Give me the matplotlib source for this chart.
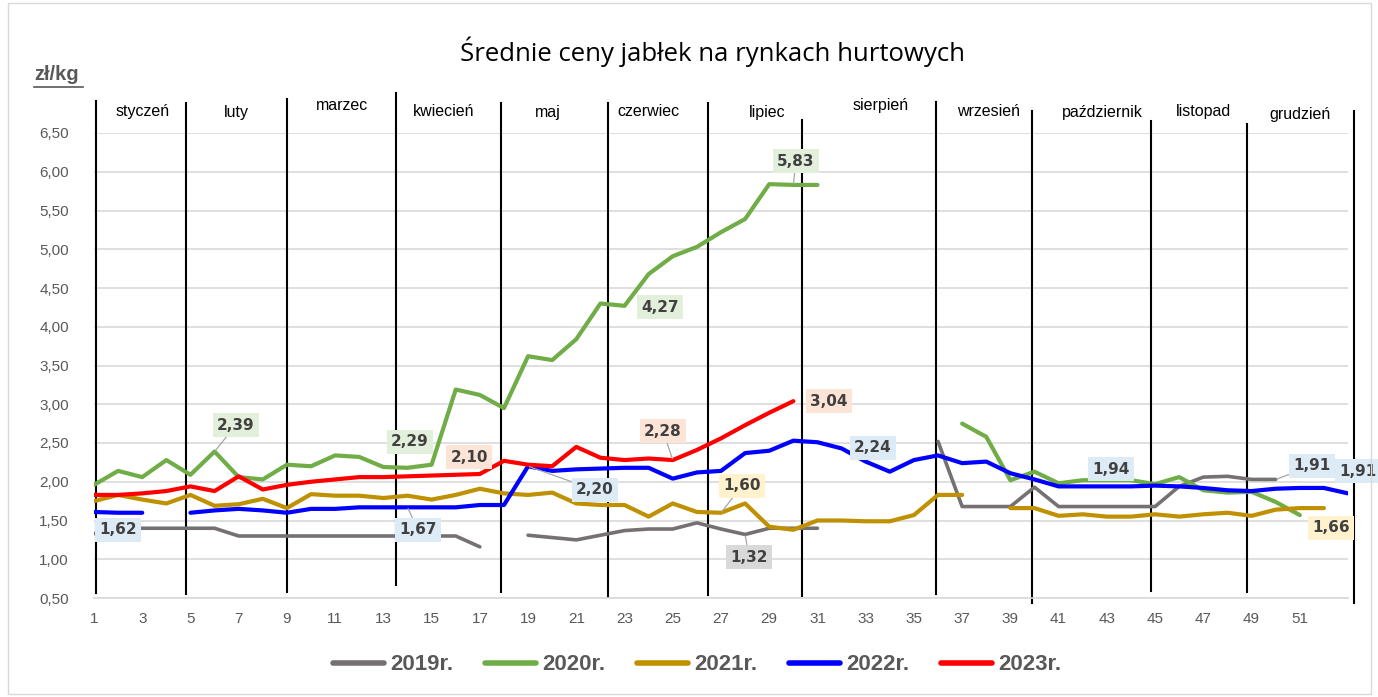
import numpy as np
import matplotlib
matplotlib.use("Agg")
import matplotlib.pyplot as plt
from matplotlib.lines import Line2D
from matplotlib.patches import Rectangle

nan = np.nan

# tygodnie 1..53
weeks = np.arange(1, 54)

ceny_2019 = [1.33, 1.40, 1.40, 1.40, 1.40, 1.40, 1.30, 1.30, 1.30, 1.30,
             1.30, 1.30, 1.30, 1.30, 1.30, 1.30, 1.16, nan, 1.31, 1.28,
             1.25, 1.31, 1.37, 1.39, 1.39, 1.47, 1.39, 1.32, 1.40, 1.40,
             1.40, nan, nan, nan, nan, 2.52, 1.68, 1.68, 1.68, 1.93,
             1.68, 1.68, 1.68, 1.68, 1.68, 1.94, 2.06, 2.07, 2.03, 2.03,
             nan, nan, nan]
ceny_2020 = [1.96, 2.14, 2.06, 2.28, 2.09, 2.39, 2.06, 2.03, 2.22, 2.20,
             2.34, 2.32, 2.19, 2.18, 2.22, 3.19, 3.12, 2.95, 3.62, 3.57,
             3.84, 4.30, 4.27, 4.68, 4.91, 5.03, 5.22, 5.39, 5.84, 5.83,
             5.83, nan, nan, nan, nan, nan, 2.75, 2.58, 2.02, 2.13,
             1.98, 2.02, 2.02, 2.02, 1.97, 2.06, 1.89, 1.86, 1.87, 1.74,
             1.57, nan, nan]
ceny_2021 = [1.75, 1.83, 1.77, 1.72, 1.83, 1.69, 1.71, 1.78, 1.66, 1.84,
             1.82, 1.82, 1.79, 1.82, 1.77, 1.83, 1.91, 1.85, 1.83, 1.86,
             1.72, 1.70, 1.70, 1.55, 1.72, 1.61, 1.60, 1.72, 1.42, 1.38,
             1.50, 1.50, 1.49, 1.49, 1.57, 1.83, 1.83, nan, 1.66, 1.66,
             1.56, 1.58, 1.55, 1.55, 1.58, 1.55, 1.58, 1.60, 1.56, 1.64,
             1.66, 1.66, nan]
ceny_2022 = [1.61, 1.60, 1.60, nan, 1.60, 1.63, 1.65, 1.63, 1.60, 1.65,
             1.65, 1.67, 1.67, 1.67, 1.67, 1.67, 1.70, 1.70, 2.20, 2.14,
             2.16, 2.17, 2.18, 2.18, 2.04, 2.12, 2.14, 2.37, 2.40, 2.53,
             2.51, 2.43, 2.26, 2.13, 2.28, 2.34, 2.24, 2.26, 2.11, 2.03,
             1.94, 1.94, 1.94, 1.94, 1.95, 1.94, 1.92, 1.89, 1.88, 1.91,
             1.92, 1.92, 1.85]
ceny_2023 = [1.83, 1.83, 1.85, 1.88, 1.94, 1.88, 2.07, 1.90, 1.96, 2.00,
             2.03, 2.06, 2.06, 2.07, 2.08, 2.09, 2.10, 2.27, 2.22, 2.20,
             2.45, 2.31, 2.28, 2.30, 2.28, 2.41, 2.56, 2.73, 2.89, 3.04] + [nan] * 23

serie = [("2019r.", ceny_2019, "#767171", 2.6),
         ("2020r.", ceny_2020, "#70AD47", 3.0),
         ("2021r.", ceny_2021, "#BF9000", 3.0),
         ("2022r.", ceny_2022, "#0000FF", 3.0),
         ("2023r.", ceny_2023, "#FF0000", 3.0)]

miesiace = ["styczeń", "luty", "marzec", "kwiecień", "maj", "czerwiec", "lipiec",
            "sierpień", "wrzesień", "październik", "listopad", "grudzień"]
# polozenie nazw miesiecy (w tygodniach) i granic miesiecy
miesiace_x = [3.03, 6.9, 11.3, 15.5, 19.8, 24.0, 28.9, 33.6, 38.1, 42.8, 47.0, 51.0]
miesiace_y = [6.78, 6.76, 6.85, 6.78, 6.76, 6.78, 6.76, 6.85, 6.78, 6.76, 6.78, 6.74]
granice_x = [1.07, 4.80, 9.02, 13.52, 17.88, 22.32, 26.47, 30.37, 35.90, 39.90, 44.84, 48.82, 53.25]
granice_top = [6.91, 6.89, 6.94, 7.02, 6.89, 6.89, 6.89, 6.67, 6.90, 6.78, 6.66, 6.62, 6.79]
granice_bot = [0.57, 0.55, 0.58, 0.67, 0.58, 0.51, 0.54, 0.53, 0.55, 0.44, 0.59, 0.58, 0.44]

y_ticks = np.arange(0.5, 6.51, 0.5)
x_ticks = np.arange(1, 52, 2)

# etykiety danych: (tekst, seria, tydzien, tlo, pozycja w px figury, linia odniesienia)
etykiety = [
    ("2,39", ceny_2020, 6, "#E2EFDA", (236, 425), True),
    ("1,62", ceny_2022, 1, "#DDEBF7", (118, 530), False),
    ("2,29", ceny_2020, 15, "#E2EFDA", (410, 442), False),
    ("2,10", ceny_2023, 17, "#FCE4D6", (469, 457), False),
    ("1,67", ceny_2022, 14, "#DDEBF7", (418, 530), True),
    ("2,20", ceny_2022, 19, "#DDEBF7", (595, 490), True),
    ("2,28", ceny_2023, 25, "#FCE4D6", (663, 431), True),
    ("3,04", ceny_2023, 30, "#FCE4D6", (829, 401), False),
    ("1,60", ceny_2021, 27, "#FFF2CC", (742, 486), True),
    ("1,32", ceny_2019, 28, "#D9D9D9", (749, 557), True),
    ("2,24", ceny_2022, 33, "#DDEBF7", (873, 448), False),
    ("4,27", ceny_2020, 23, "#E2EFDA", (660, 307), False),
    ("5,83", ceny_2020, 30, "#E2EFDA", (796, 161), True),
    ("1,94", ceny_2022, 42, "#DDEBF7", (1111, 469), False),
    ("1,91", ceny_2019, 50, "#DDEBF7", (1312, 466), True),
    ("1,91", ceny_2022, 53, "#DDEBF7", (1358, 471), False),
    ("1,66", ceny_2021, 52, "#FFF2CC", (1331, 528), False),
]

W, H = 1378, 697
fig = plt.figure(figsize=(W / 100, H / 100), dpi=100)
ax = fig.add_axes([94 / W, 1 - 598 / H, (1348 - 94) / W, (598 - 133) / H])

for nazwa, dane, kolor, lw in serie:
    ax.plot(weeks, np.array(dane, dtype=float), color=kolor, lw=lw, label=nazwa,
            solid_joinstyle="round", solid_capstyle="round", zorder=3)

ax.set_xlim(1, 53)
ax.set_ylim(0.5, 6.5)
ax.set_yticks(y_ticks)
ax.set_yticklabels([f"{v:.2f}".replace(".", ",") for v in y_ticks])
ax.set_xticks(x_ticks)
ax.set_xticklabels([str(t) for t in x_ticks])
ax.tick_params(length=0, labelsize=11, labelcolor="#595959", pad=6)
for lab in ax.get_xticklabels() + ax.get_yticklabels():
    lab.set_fontfamily("Liberation Sans")
ax.tick_params(axis="y", pad=18)
ax.tick_params(axis="x", pad=10)
ax.grid(axis="y", color="#D9D9D9", lw=1.2)
ax.set_axisbelow(True)
for s in ["left", "right", "top"]:
    ax.spines[s].set_visible(False)
ax.spines["bottom"].set_color("#D9D9D9")
ax.spines["bottom"].set_linewidth(1.2)

# granice miesiecy
for gx, gt, gb in zip(granice_x, granice_top, granice_bot):
    ax.plot([gx, gx], [gb, gt], color="black", lw=1.5, clip_on=False, zorder=2)

for m, mx, my in zip(miesiace, miesiace_x, miesiace_y):
    ax.text(mx, my, m, ha="center", va="center", fontsize=11.5,
            family="Liberation Sans", color="black", clip_on=False)

# etykiety danych
for tekst, dane, tydz, tlo, (px, py), linia in etykiety:
    xy = (tydz, dane[tydz - 1])
    props = dict(arrowstyle="-", color="#A6A6A6", lw=0.9, shrinkA=0, shrinkB=1) if linia else None
    ax.annotate(tekst, xy=xy, xytext=(px, H - py), textcoords="figure pixels",
                ha="center", va="center", fontsize=11, fontweight="bold",
                family="DejaVu Sans", color="#404040", annotation_clip=False,
                bbox=dict(boxstyle="square,pad=0.3", fc=tlo, ec="none"),
                arrowprops=props, zorder=5)

fig.text(713 / W, 1 - 52 / H, "Średnie ceny jabłek na rynkach hurtowych",
         ha="center", va="center", fontsize=18.5, family="Open Sans", color="black")

fig.text(34 / W, 1 - 75 / H, "zł/kg", ha="left", va="center", fontsize=14.5,
         fontweight="bold", family="Liberation Sans", color="#595959")
fig.add_artist(Line2D([34 / W, 83 / W], [1 - 87 / H, 1 - 87 / H],
                      transform=fig.transFigure, color="#595959", lw=1.2))

fig.add_artist(Rectangle((8 / W, 3 / H), (1371 - 8) / W, (694 - 3) / H,
                         transform=fig.transFigure, fill=False, ec="#D9D9D9", lw=1))

leg = fig.legend(loc="center", bbox_to_anchor=(697 / W, 1 - 665 / H), ncol=5,
                 frameon=False, handlelength=2.3, handletextpad=0.3,
                 columnspacing=1.4,
                 prop=dict(family="Liberation Sans", weight="bold", size=16))
for t in leg.get_texts():
    t.set_color("#595959")
for l in leg.get_lines():
    l.set_linewidth(4)

fig.savefig("out.png", dpi=100)
